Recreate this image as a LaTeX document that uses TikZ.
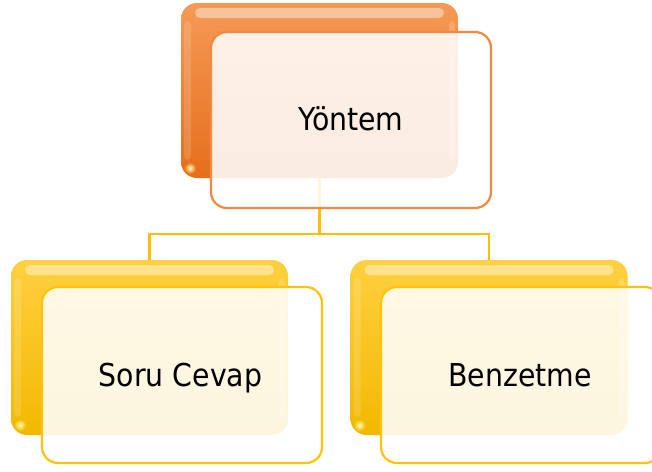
\documentclass[tikz,border=0pt]{standalone}
\usepackage{fontspec}
\setmainfont{DejaVu Sans}[FakeStretch=0.9]
\definecolor{orgtop}{HTML}{F59A55}
\definecolor{orgmid}{HTML}{F0863A}
\definecolor{orgbot}{HTML}{E56E1C}
\definecolor{orgline}{HTML}{F08A40}
\definecolor{yeltop}{HTML}{FFD040}
\definecolor{yelmid}{HTML}{FFC822}
\definecolor{yelbot}{HTML}{F2B800}
\definecolor{yelline}{HTML}{FFC20E}
\definecolor{conn}{HTML}{FFC000}
\tikzset{
  backbox/.style={rounded corners=16pt, minimum width=277pt, minimum height=175pt, inner sep=0pt, outer sep=0pt},
  orangeback/.style={backbox, top color=orgtop, middle color=orgmid, bottom color=orgbot},
  yellowback/.style={backbox, top color=yeltop, middle color=yelmid, bottom color=yelbot},
  frontbox/.style={rounded corners=16pt, minimum width=280pt, minimum height=176pt, inner sep=0pt, outer sep=0pt, fill=white, fill opacity=0.87, line width=2.2pt},
  conline/.style={draw=conn, line width=2.7pt},
  lbl/.style={font=\fontsize{31.5}{37}\selectfont, text=black, inner sep=0pt, anchor=base},
}
\newcommand{\glossy}[2]{%
  \fill[white, opacity=0.42, rounded corners=5pt] ([xshift=14pt,yshift=-5pt]#1.north west) rectangle ([xshift=-14pt,yshift=-15pt]#1.north east);
  \fill[white, opacity=0.15, rounded corners=4pt] ([xshift=3pt,yshift=-18pt]#1.north west) rectangle ([xshift=10pt,yshift=18pt]#1.south west);
  \fill[white, opacity=0.18, rounded corners=4pt] ([xshift=-3pt,yshift=-18pt]#1.north east) rectangle ([xshift=-9pt,yshift=18pt]#1.south east);
  \shade[inner color=white!70!yellow, outer color=#2] ([xshift=9pt,yshift=10pt]#1.south west) circle (6pt);
}
\begin{document}
\begin{tikzpicture}[x=1pt,y=-1pt]
\useasboundingbox (0,0) rectangle (652,471);
\clip (0,0) rectangle (652,471);
% back boxes
\node[orangeback] (tb) at (319.5,90.5) {};
\glossy{tb}{orgbot}
\node[yellowback] (lb) at (149.5,347.5) {};
\glossy{lb}{yelbot}
\node[yellowback] (rb) at (489,347.5) {};
\glossy{rb}{yelbot}
% connectors
\coordinate (hj) at (319.5,234);
\draw[conline] (tb.south) -- (hj);
\draw[conline] (lb.north) |- (hj) -| (rb.north);
% front boxes
\node[frontbox, draw=orgline] (tf) at (351,120) {};
\node[frontbox, draw=yelline] (lf) at (182,375) {};
\node[frontbox, draw=yelline] (rf) at (521,375) {};
% labels
\node[lbl] (t1) at (351,130) {Yöntem};
\node[lbl] (t2) at (180.5,386) {Soru Cevap};
\node[lbl] (t3) at (520,386) {Benzetme};
\end{tikzpicture}
\end{document}
